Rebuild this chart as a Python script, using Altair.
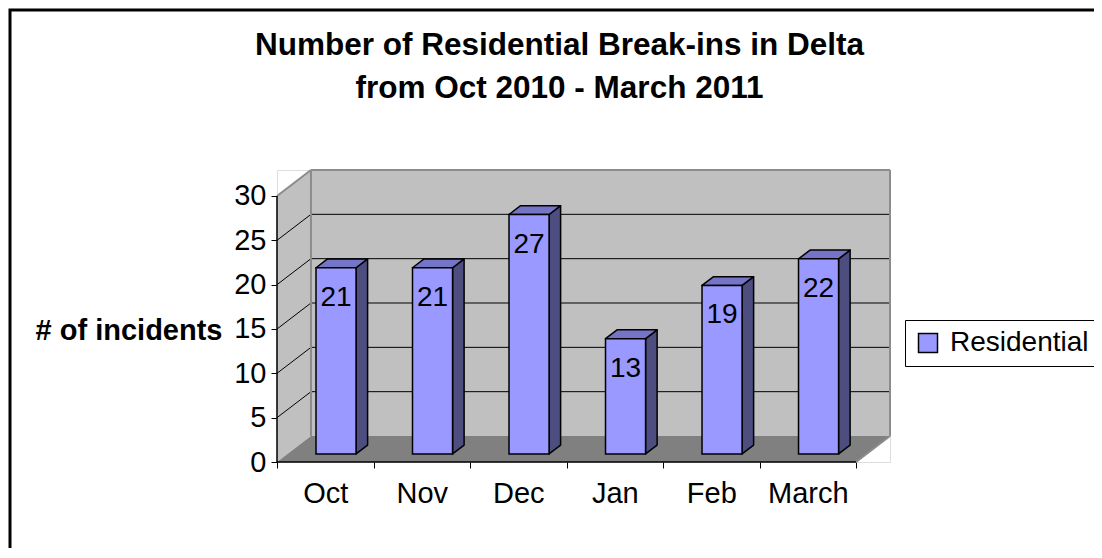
import json
import altair as alt
import pandas as pd

# ---------------- data ----------------
months = ["Oct", "Nov", "Dec", "Jan", "Feb", "March"]
values = [21, 21, 27, 13, 19, 22]
series_name = "Residential"
y_ticks = [0, 5, 10, 15, 20, 25, 30]
title_lines = ["Number of Residential Break-ins in Delta", "from Oct 2010 - March 2011"]
y_title = "# of incidents"

# ---------------- style / projection constants ----------------
N = len(months)
YMAX = 30
DX = 0.352          # depth offset along x (category units)
DY = 2.93           # depth offset along y (value units)
BAR_L, BAR_R = 0.295, 0.71
Z_FRONT, Z_BACK = 0.31, 0.65
W, H = 613, 292
FONT = "Liberation Sans"
FRONT_C, TOP_C, SIDE_C = "#9999ff", "#7575c8", "#4d4d80"
WALL_C, FLOOR_C, EDGE_C = "#c0c0c0", "#808080", "#8c8c8c"

fx, fy = Z_FRONT * DX, Z_FRONT * DY
bx, by = Z_BACK * DX, Z_BACK * DY

xs = alt.Scale(domain=[0, N + DX], nice=False, zero=False)
ys = alt.Scale(domain=[0, YMAX + DY], nice=False, zero=False)

# bars (front faces)
bars = pd.DataFrame({"month": months, "value": values, "i": list(range(N)),
                     "series": [series_name] * N})
bars["xl"] = bars["i"] + BAR_L + fx
bars["xr"] = bars["i"] + BAR_R + fx
bars["yb"] = fy
bars["yt"] = bars["value"] + fy
bars["xc"] = bars["i"] + (BAR_L + BAR_R) / 2 + fx

# side and top faces (two points each)
side_rows, top_rows = [], []
for i, (m, v) in enumerate(zip(months, values)):
    side_rows.append({"month": m, "x": i + BAR_R + fx, "y": fy, "y2": v + fy})
    side_rows.append({"month": m, "x": i + BAR_R + bx, "y": by, "y2": v + by})
    top_rows.append({"month": m, "y": v + fy, "x": i + BAR_L + fx, "x2": i + BAR_R + fx})
    top_rows.append({"month": m, "y": v + by, "x": i + BAR_L + bx, "x2": i + BAR_R + bx})
side = pd.DataFrame(side_rows)
top = pd.DataFrame(top_rows)

# walls: back wall and the left wall block share one rect layer
walls = pd.DataFrame({"part": ["back", "left"],
                      "x": [DX, 0.0], "x2": [N + DX, DX],
                      "y": [DY, DY], "y2": [YMAX + DY, float(YMAX)]})
wall_tris = pd.DataFrame({"part": ["lo", "lo", "hi", "hi"],
                          "y": [0.0, DY, float(YMAX), YMAX + DY],
                          "x": [0.0, 0.0, 0.0, DX],
                          "x2": [0.001, DX, DX, DX + 0.001]})
floor = pd.DataFrame({"y": [0, DY], "x": [0, DX], "x2": [N, N + DX]})
grid_vals = [t for t in y_ticks if 0 < t < YMAX]
grid_back = pd.DataFrame({"x": [DX] * len(grid_vals), "x2": [N + DX] * len(grid_vals),
                          "y": [g + DY for g in grid_vals]})
grid_left = pd.DataFrame({"x": [0] * len(grid_vals), "x2": [DX] * len(grid_vals),
                          "y": grid_vals, "y2": [g + DY for g in grid_vals]})
edges = pd.DataFrame({
    "x": [0, DX, DX, N + DX, N],
    "x2": [DX, DX, N + DX, N + DX, N + DX],
    "y": [YMAX, DY, YMAX + DY, DY, 0],
    "y2": [YMAX + DY, YMAX + DY, YMAX + DY, YMAX + DY, DY],
})
front_axes = pd.DataFrame({"x": [0, 0], "x2": [0, N], "y": [0, 0], "y2": [YMAX, 0]})

label_expr = "datum.value < %d ? %s[datum.value] : ''" % (N, json.dumps(months))

x_axis = alt.Axis(values=list(range(N + 1)), labelExpr=label_expr, labelOffset=W / (N + DX) / 2,
                  tickSize=6, tickColor="black", tickWidth=1, domain=False, grid=False,
                  labelFont=FONT, labelFontSize=29, labelColor="black", labelPadding=11,
                  labelOverlap=False, labelFlush=False, labelBound=False, title=None)
y_axis = alt.Axis(values=y_ticks, tickSize=6, tickColor="black", tickWidth=1, domain=False,
                  grid=False, labelFont=FONT, labelFontSize=29, labelColor="black",
                  labelPadding=5, labelOverlap=False, labelFlush=False,
                  title=y_title, titleAngle=0, titleAlign="right", titleBaseline="middle",
                  titleX=-55, titleY=160, titleFont=FONT, titleFontSize=29,
                  titleFontWeight="bold", titleColor="black")


def X(f):
    return alt.X(f, scale=xs, axis=x_axis)


def Y(f):
    return alt.Y(f, scale=ys, axis=y_axis)


bw = alt.Chart(walls).mark_rect(fill=WALL_C, stroke=WALL_C, strokeWidth=0.5).encode(
    x=X("x:Q"), x2="x2:Q", y=Y("y:Q"), y2="y2:Q", detail="part:N",
)
lwt = alt.Chart(wall_tris).mark_area(orient="horizontal", fill=WALL_C, opacity=1).encode(
    y=Y("y:Q"), x=X("x:Q"), x2="x2:Q", detail="part:N",
)
gb = alt.Chart(grid_back).mark_rule(color="black", strokeWidth=1).encode(
    x=X("x:Q"), x2="x2:Q", y=Y("y:Q"),
)
gl = alt.Chart(grid_left).mark_rule(color="black", strokeWidth=1).encode(
    x=X("x:Q"), x2="x2:Q", y=Y("y:Q"), y2="y2:Q",
)
fl = alt.Chart(floor).mark_area(orient="horizontal", fill=FLOOR_C, opacity=1).encode(
    y=Y("y:Q"), x=X("x:Q"), x2="x2:Q",
)
ed = alt.Chart(edges).mark_rule(color=EDGE_C, strokeWidth=2).encode(
    x=X("x:Q"), x2="x2:Q", y=Y("y:Q"), y2="y2:Q",
)
sd = alt.Chart(side).mark_area(orient="vertical", fill=SIDE_C, opacity=1, stroke="black",
                               strokeWidth=1.5, strokeJoin="round").encode(
    x=X("x:Q"), y=Y("y:Q"), y2="y2:Q", detail="month:N",
)
tp = alt.Chart(top).mark_area(orient="horizontal", fill=TOP_C, opacity=1, stroke="black",
                              strokeWidth=1.5, strokeJoin="round").encode(
    y=Y("y:Q"), x=X("x:Q"), x2="x2:Q", detail="month:N",
)
fr = alt.Chart(bars).mark_rect(stroke="black", strokeWidth=1.5, opacity=1).encode(
    x=X("xl:Q"), x2="xr:Q", y=Y("yb:Q"), y2="yt:Q",
    fill=alt.Fill("series:N", scale=alt.Scale(domain=[series_name], range=[FRONT_C]),
                  legend=alt.Legend(title=None, orient="none", legendX=628, legendY=150,
                                    strokeColor="black", fillColor="white", padding=9,
                                    symbolType="square", symbolSize=361,
                                    symbolStrokeColor="black", symbolStrokeWidth=1.5,
                                    symbolFillColor=FRONT_C, symbolOpacity=1, labelOffset=8,
                                    labelFont=FONT, labelFontSize=28, labelColor="black")),
)
lab = alt.Chart(bars).mark_text(font=FONT, fontSize=28, color="black", baseline="middle",
                                align="center", dy=30).encode(
    x=X("xc:Q"), y=Y("yt:Q"), text="value:Q",
)
fa = alt.Chart(front_axes).mark_rule(color="black", strokeWidth=1.5).encode(
    x=X("x:Q"), x2="x2:Q", y=Y("y:Q"), y2="y2:Q",
)
border = alt.Chart(pd.DataFrame({"a": [0]})).mark_rect(
    fillOpacity=0, stroke="black", strokeWidth=3).encode(
    x=alt.value(-267), x2=alt.value(W + 400), y=alt.value(-160), y2=alt.value(H + 300),
)

chart = alt.layer(bw, lwt, gb, gl, fl, ed, sd, tp, fr, lab, fa, border).properties(
    width=W, height=H,
    title=alt.TitleParams(text=title_lines, font=FONT, fontSize=31.5, fontWeight="bold",
                          color="black", anchor="middle", frame="group", dx=-24,
                          offset=0, dy=96, lineHeight=43),
    autosize=alt.AutoSizeParams(type="none"),
    padding={"left": 269, "top": 162, "right": 204, "bottom": 86},
).configure_view(stroke=None).configure(background="white")

chart.save("out.html", embed_options={"renderer": "svg", "actions": False})
